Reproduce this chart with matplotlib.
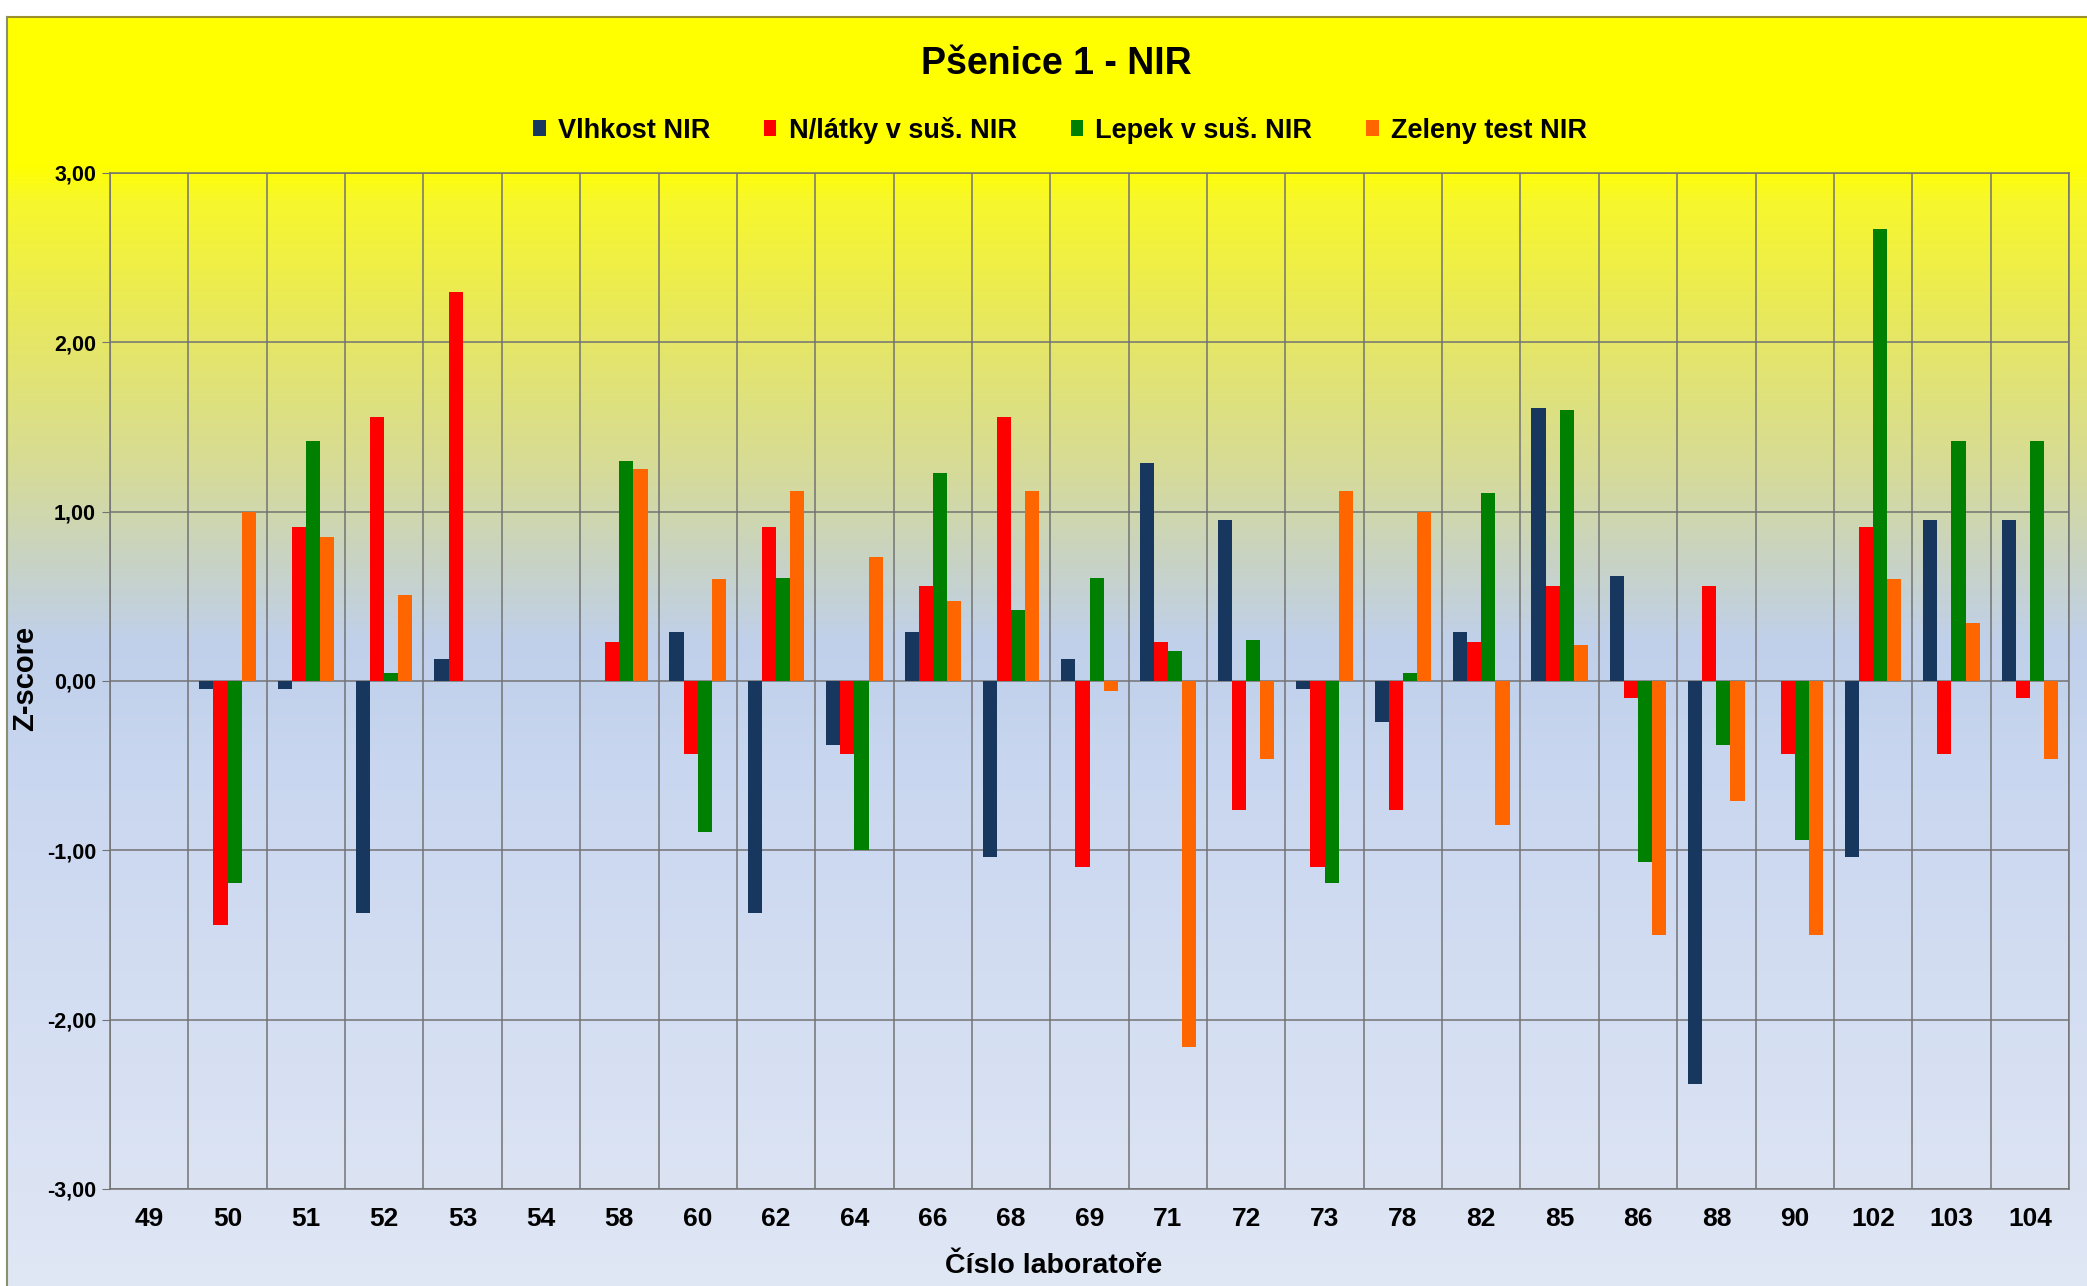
import matplotlib
matplotlib.use('Agg')
import matplotlib.pyplot as plt
import matplotlib.colors as mcolors
from matplotlib.patches import Patch
from matplotlib.lines import Line2D
from matplotlib.ticker import FuncFormatter
import numpy as np

plt.rcParams['font.family'] = ['Liberation Sans', 'DejaVu Sans']
plt.rcParams['font.weight'] = 'bold'

# cislo laboratore
labs = ['49', '50', '51', '52', '53', '54', '58', '60', '62', '64', '66', '68', '69',
        '71', '72', '73', '78', '82', '85', '86', '88', '90', '102', '103', '104']

# z-score hodnoty (nan = bez vysledku)
vlhkost = [np.nan, -0.05, -0.05, -1.37, 0.13, np.nan, np.nan, 0.29, -1.37, -0.38, 0.29, -1.04, 0.13,
           1.29, 0.95, -0.05, -0.24, 0.29, 1.61, 0.62, -2.38, np.nan, -1.04, 0.95, 0.95]
nlatky = [np.nan, -1.44, 0.91, 1.56, 2.30, np.nan, 0.23, -0.43, 0.91, -0.43, 0.56, 1.56, -1.10,
          0.23, -0.76, -1.10, -0.76, 0.23, 0.56, -0.10, 0.56, -0.43, 0.91, -0.43, -0.10]
lepek = [np.nan, -1.19, 1.42, 0.05, np.nan, np.nan, 1.30, -0.89, 0.61, -1.00, 1.23, 0.42, 0.61,
         0.18, 0.24, -1.19, 0.05, 1.11, 1.60, -1.07, -0.38, -0.94, 2.67, 1.42, 1.42]
zeleny = [np.nan, 1.00, 0.85, 0.51, np.nan, np.nan, 1.25, 0.60, 1.12, 0.73, 0.47, 1.12, -0.06,
          -2.16, -0.46, 1.12, 1.00, -0.85, 0.21, -1.50, -0.71, -1.50, 0.60, 0.34, -0.46]

series = [('Vlhkost NIR', vlhkost, '#17375E'),
          ('N/látky v suš. NIR', nlatky, '#FF0000'),
          ('Lepek v suš. NIR', lepek, '#008000'),
          ('Zeleny test NIR', zeleny, '#FF6600')]

W, H = 2087, 1286
fig = plt.figure(figsize=(W / 100, H / 100), dpi=100)
fig.patch.set_facecolor('white')

# pozadi - prechod zluta -> modra
stops_y = [0, 165, 200, 320, 470, 560, 640, 760, 1000, 1286]
stops_c = ['#FFFF00', '#FFFF00', '#F7F72C', '#E8E85E', '#D6DB98', '#C8D3C4',
           '#C0D0EA', '#C8D6EF', '#D4DEF2', '#E0E7F5']
rgb = np.array([mcolors.to_rgb(c) for c in stops_c])
yy = np.arange(17, H)
grad = np.stack([np.interp(yy, stops_y, rgb[:, k]) for k in range(3)], axis=1)
grad = grad[:, None, :]

bg = fig.add_axes([7 / W, 0, 1 - 7 / W, (H - 17) / H])
bg.imshow(grad, aspect='auto', extent=(0, 1, 0, 1))
bg.set_axis_off()
fig.add_artist(Line2D([7 / W, 1], [(H - 17) / H] * 2, color='#9A8F2A', lw=1.5))
fig.add_artist(Line2D([7 / W, 7 / W], [0, (H - 17) / H], color='#8A8F70', lw=1.5))

ax = fig.add_axes([110 / W, (H - 1189) / H, (2069 - 110) / W, (1189 - 173) / H])
ax.set_facecolor('none')

x = np.arange(len(labs))
w = 0.18
for i, (name, vals, col) in enumerate(series):
    ax.bar(x + (i - 1.5) * w, vals, w, color=col, zorder=3, label=name)

ax.set_xlim(-0.5, len(labs) - 0.5)
ax.set_ylim(-3, 3)
ax.set_yticks(np.arange(-3, 4))
ax.yaxis.set_major_formatter(FuncFormatter(lambda v, p: f'{v:.2f}'.replace('.', ',')))
ax.set_xticks(x)
ax.set_xticklabels(labs)
ax.set_xticks(np.arange(-0.5, len(labs)), minor=True)
ax.grid(True, axis='y', which='major', color='#737373', lw=1.1, zorder=1)
ax.grid(True, axis='x', which='minor', color='#737373', lw=1.1, zorder=1)
ax.grid(False, axis='x', which='major')
for s in ax.spines.values():
    s.set_color('#737373')
    s.set_linewidth(1.1)
ax.tick_params(axis='y', which='major', length=6, color='#737373', labelsize=15.5, pad=4)
ax.tick_params(axis='x', which='both', length=0, labelsize=19, pad=13)

fig.text(1056 / W, 1 - 64 / H, 'Pšenice 1 - NIR', ha='center', va='center', fontsize=27)
fig.text(1054 / W, 1 - 1266 / H, 'Číslo laboratoře', ha='center', va='center', fontsize=20.5)
fig.text(25 / W, 1 - 678 / H, 'Z-score', ha='center', va='center', rotation=90, fontsize=21)

handles = [Patch(facecolor=c, edgecolor='none', label=n) for n, v, c in series]
fig.legend(handles=handles, loc='center', bbox_to_anchor=(1060 / W, 1 - 130 / H), ncol=4,
           frameon=False, fontsize=19.5, handlelength=0.45, handleheight=0.5,
           handletextpad=0.45, columnspacing=2.0)

fig.savefig('out.png', dpi=100)
